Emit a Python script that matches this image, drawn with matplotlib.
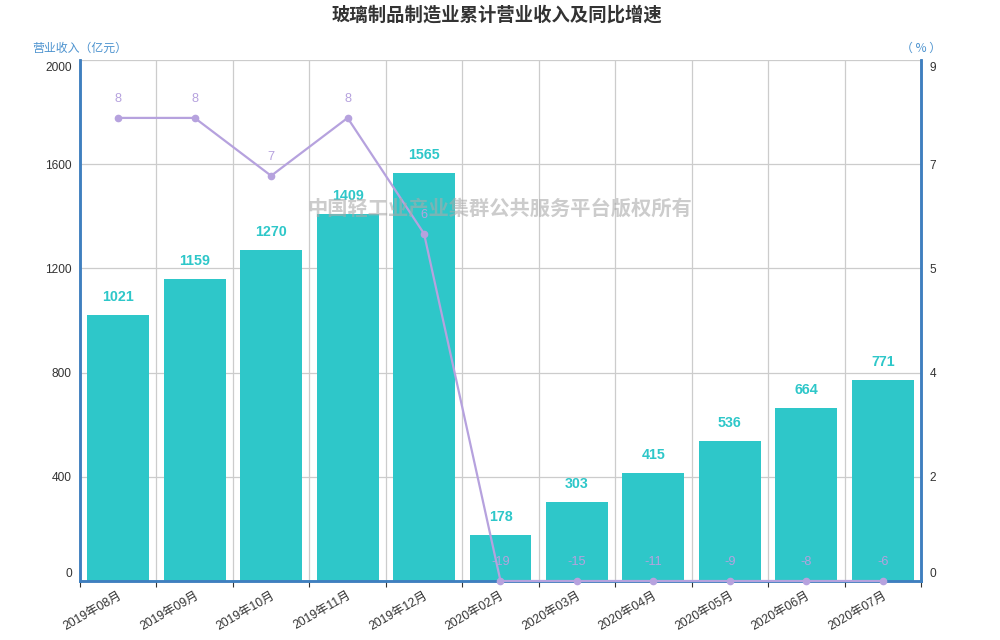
import matplotlib
matplotlib.use("Agg")
import matplotlib.pyplot as plt
from matplotlib.ticker import FixedLocator, FuncFormatter
from matplotlib.transforms import ScaledTranslation
import numpy as np

plt.rcParams['font.family'] = ['Liberation Sans', 'Noto Sans CJK SC', 'DejaVu Sans']

categories = ["2019年08月", "2019年09月", "2019年10月", "2019年11月", "2019年12月",
              "2020年02月", "2020年03月", "2020年04月", "2020年05月", "2020年06月", "2020年07月"]
revenue = [1021, 1159, 1270, 1409, 1565, 178, 303, 415, 536, 664, 771]
growth = [8, 8, 7, 8, 6, -19, -15, -11, -9, -8, -6]
left_ticks = [0, 400, 800, 1200, 1600, 2000]
right_ticks = [0, 1.8, 3.6, 5.4, 7.2, 9]

title = "玻璃制品制造业累计营业收入及同比增速"
left_name = "营业收入（亿元）"
right_name = "（ % ）"
watermark = "中国轻工业产业集群公共服务平台版权所有"

bar_color = "#2ec7c9"
line_color = "#b6a2de"
axis_blue = "#3f7fbf"
name_blue = "#4d93cf"
grid_c = "#cccccc"
txt_c = "#333333"

fig = plt.figure(figsize=(10, 6.4), dpi=100)
ax = fig.add_axes([0.08, 0.0922, 0.841, 0.814])
ax2 = ax.twinx()

n = len(categories)
x = np.arange(n)
ax.set_xlim(-0.5, n - 0.5)
ax.set_ylim(0, 2000)
ax2.set_ylim(0, 9)

# grid
for b in np.arange(-0.5, n, 1.0):
    ax.axvline(b, color=grid_c, lw=0.9, zorder=0)
for t in left_ticks:
    ax.axhline(t, color=grid_c, lw=0.9, zorder=0)

bars = ax.bar(x, revenue, width=0.81, color=bar_color, zorder=2)
for xi, v in zip(x, revenue):
    ax.annotate(f"{v}", (xi, v), xytext=(0, 8), textcoords="offset points",
                ha="center", va="bottom", color=bar_color, fontsize=10.3,
                fontweight="bold", zorder=5)

gy = np.clip(np.array(growth, dtype=float), 0, None)
ax2.plot(x, gy, color=line_color, lw=1.6, marker="o", markersize=4.5, zorder=4, clip_on=False)
for xi, yv, v in zip(x, gy, growth):
    ax2.annotate(f"{v}", (xi, yv), xytext=(0, 9), textcoords="offset points",
                 ha="center", va="bottom", color=line_color, fontsize=9.2, zorder=5)

# axes styling
ax.set_xticks(np.arange(-0.5, n, 1.0), minor=False)
ax.set_xticklabels([])
ax.set_xticks(x, minor=True)
ax.set_xticklabels(categories, minor=True, rotation=30, ha="right", rotation_mode="anchor",
                   fontsize=8.8, color=txt_c, family=['Liberation Sans', 'Noto Sans CJK SC'])
ax.tick_params(axis="x", which="major", length=4, color=txt_c, direction="out")
ax.tick_params(axis="x", which="minor", length=0, pad=6)

ax.yaxis.set_major_locator(FixedLocator(left_ticks))
ax.tick_params(axis="y", length=0, labelsize=8.6, labelcolor=txt_c, pad=6)
ax2.yaxis.set_major_locator(FixedLocator(right_ticks))
ax2.yaxis.set_major_formatter(FuncFormatter(lambda v, p: f"{v:.0f}"))
ax2.tick_params(axis="y", length=0, labelsize=8.6, labelcolor=txt_c, pad=6)

# shift end labels inward like the reference
for a, getter in ((ax, lambda: ax.get_yticklabels()), (ax2, lambda: ax2.get_yticklabels())):
    labs = getter()
    labs[0].set_transform(labs[0].get_transform() + ScaledTranslation(0, 8 / 100, fig.dpi_scale_trans))
    labs[-1].set_transform(labs[-1].get_transform() + ScaledTranslation(0, -6 / 100, fig.dpi_scale_trans))

for a in (ax, ax2):
    a.spines["top"].set_visible(False)
    for s in ("left", "right", "bottom"):
        a.spines[s].set_color(axis_blue)
        a.spines[s].set_linewidth(1.8)
ax.set_zorder(ax2.get_zorder() - 1)
ax.patch.set_visible(True)
ax2.patch.set_visible(False)

fig.text(0.497, 0.992, title, ha="center", va="top", fontsize=13.2, fontweight="bold",
         color=txt_c, family=['Noto Sans CJK SC', 'DejaVu Sans'])
fig.text(0.032, 0.925, left_name, ha="left", va="center", fontsize=8.6, color=name_blue,
         family=['Noto Sans CJK SC', 'DejaVu Sans'])
fig.text(0.921, 0.925, right_name, ha="center", va="center", fontsize=8.6, color=name_blue,
         family=['Noto Sans CJK SC', 'DejaVu Sans'])
fig.text(0.5, 0.675, watermark, ha="center", va="center", fontsize=14.6, fontweight="bold",
         color="#aaaaaa", alpha=0.6, zorder=10, family=['Noto Sans CJK SC', 'DejaVu Sans'])

fig.savefig("out.png", dpi=100)
